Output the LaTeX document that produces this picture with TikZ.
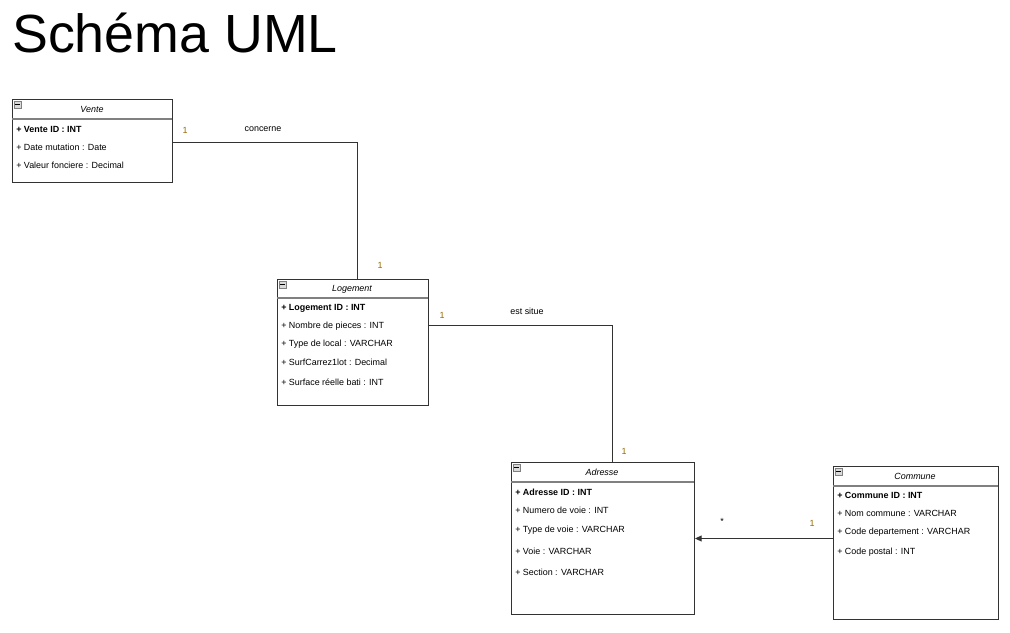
\documentclass[tikz,border=0pt]{standalone}
\usepackage{fontspec}
\setmainfont{Liberation Sans}
\usetikzlibrary{arrows.meta,calc}
\definecolor{mult}{HTML}{9A6A00}
\definecolor{bordergray}{HTML}{333333}
\tikzset{
  umlbox/.style={draw=bordergray, line width=0.75pt, rectangle, anchor=north west, inner sep=0pt},
  attr/.style={anchor=west, inner sep=0pt, font=\fontsize{6.7pt}{7.5pt}\selectfont},
  keyattr/.style={attr, font=\fontsize{6.7pt}{7.5pt}\selectfont\bfseries},
  classname/.style={inner sep=0pt, font=\fontsize{6.7pt}{7.5pt}\selectfont\itshape},
  divider/.style={draw=gray, line width=1pt},
  conn/.style={draw=bordergray, line width=0.75pt},
  multlabel/.style={inner sep=0pt, font=\fontsize{6.7pt}{7.5pt}\selectfont, text=mult},
  rolelabel/.style={inner sep=0pt, font=\fontsize{6.7pt}{7.5pt}\selectfont},
  icon/.style={draw=gray, fill=gray!30, line width=0.4pt, minimum size=5pt, inner sep=0pt, anchor=north west}
}
\begin{document}
\begin{tikzpicture}[x=0.75pt, y=-0.75pt]
\useasboundingbox (0,0) rectangle (1010,632);
\node[anchor=west, inner sep=0pt, font=\fontsize{40.3pt}{44pt}\selectfont] (title) at (12,33) {Schéma UML};

% Vente
\node[umlbox, minimum width=0.75pt*160, minimum height=0.75pt*83] (vente) at (12,99) {};
\draw[divider] (12,119) -- (172,119);
\node[icon] (ventei) at (14,101) {};
\draw[line width=0.6pt] (15,104.3) -- (20,104.3);
\node[classname] (venten) at (92,109) {Vente};
\node[keyattr] (v1) at (16,129) {+ Vente ID : INT};
\node[attr] (v2) at (16,147) {+ Date mutation : Date};
\node[attr] (v3) at (16,165) {+ Valeur fonciere : Decimal};

% Logement
\node[umlbox, minimum width=0.75pt*151, minimum height=0.75pt*126] (logement) at (277,279) {};
\draw[divider] (277,298) -- (428,298);
\node[icon] (logi) at (279,281) {};
\draw[line width=0.6pt] (280,284.3) -- (285,284.3);
\node[classname] (logn) at (352,289) {Logement};
\node[keyattr] (l1) at (281,308) {+ Logement ID : INT};
\node[attr] (l2) at (281,326) {+ Nombre de pieces : INT};
\node[attr] (l3) at (281,344) {+ Type de local : VARCHAR};
\node[attr] (l4) at (281,362) {+ SurfCarrez1lot : Decimal};
\node[attr] (l5) at (281,382) {+ Surface réelle bati : INT};

% Adresse
\node[umlbox, minimum width=0.75pt*183, minimum height=0.75pt*152] (adresse) at (511,462) {};
\draw[divider] (511,482) -- (694,482);
\node[icon] (adri) at (513,464) {};
\draw[line width=0.6pt] (514,467.3) -- (519,467.3);
\node[classname] (adrn) at (602,472) {Adresse};
\node[keyattr] (a1) at (515,492) {+ Adresse ID : INT};
\node[attr] (a2) at (515,510) {+ Numero de voie : INT};
\node[attr] (a3) at (515,530) {+ Type de voie : VARCHAR};
\node[attr] (a4) at (515,551) {+ Voie : VARCHAR};
\node[attr] (a5) at (515,572) {+ Section : VARCHAR};

% Commune
\node[umlbox, minimum width=0.75pt*165, minimum height=0.75pt*153] (commune) at (833,466) {};
\draw[divider] (833,486) -- (998,486);
\node[icon] (comi) at (835,468) {};
\draw[line width=0.6pt] (836,471.3) -- (841,471.3);
\node[classname] (comn) at (915,476) {Commune};
\node[keyattr] (c1) at (837,495) {+ Commune ID : INT};
\node[attr] (c2) at (837,513) {+ Nom commune : VARCHAR};
\node[attr] (c3) at (837,532) {+ Code departement : VARCHAR};
\node[attr] (c4) at (837,552) {+ Code postal : INT};

% Connectors
\coordinate (vl) at (357,279);
\draw[conn] ([yshift=-0.75pt*1.5]vente.east) -| (vl);
\coordinate (la) at (612,462);
\draw[conn] ([yshift=0.75pt*17]logement.east) -| (la);
\draw[conn, -{Triangle[length=5pt,width=4.5pt]}] ([yshift=0.75pt*4.5]commune.west) coordinate (cs) -- (cs -| adresse.east);

% Labels
\node[multlabel] (m1) at (185,130) {1};
\node[rolelabel] (r1) at (263,129) {concerne};
\node[multlabel] (m2) at (380,265) {1};
\node[multlabel] (m3) at (442,315) {1};
\node[rolelabel] (r2) at (527,311) {est situe};
\node[multlabel] (m4) at (624,451) {1};
\node[rolelabel] (m5) at (722,521) {*};
\node[multlabel] (m6) at (812,523) {1};
\end{tikzpicture}
\end{document}
